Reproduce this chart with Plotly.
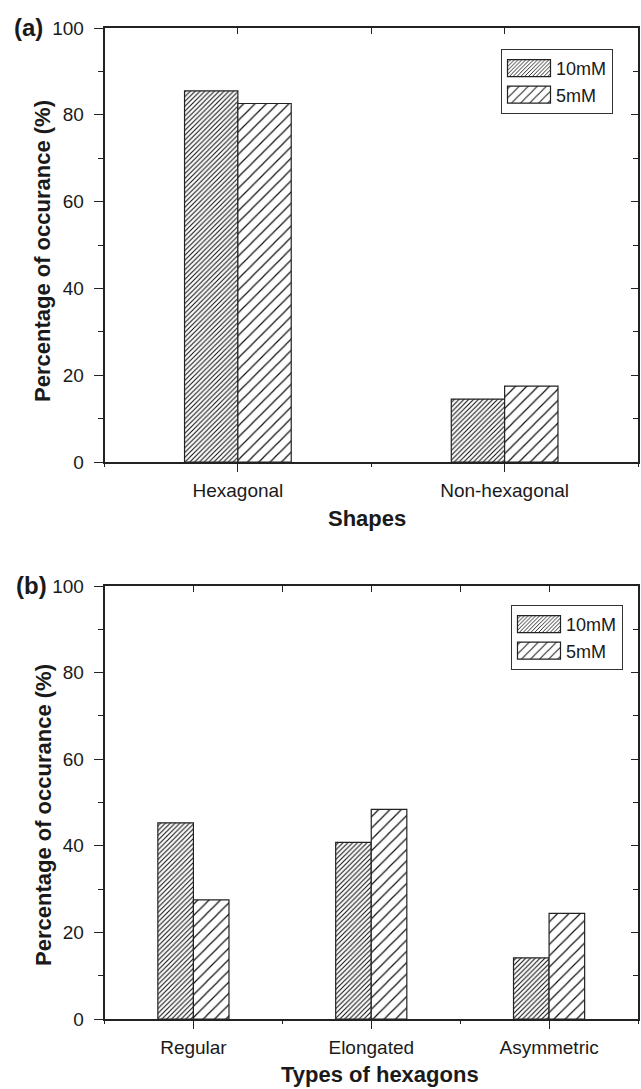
import plotly.graph_objects as go

# ---------------- data ----------------
shapes = ["Hexagonal", "Non-hexagonal"]
shapes_10mM = [85.5, 14.5]
shapes_5mM = [82.6, 17.5]

types = ["Regular", "Elongated", "Asymmetric"]
types_10mM = [45.3, 40.8, 14.1]
types_5mM = [27.5, 48.4, 24.4]

series_names = ["10mM", "5mM"]
y_range = [0, 100]

# ---------------- layout helpers ----------------
W, H = 641, 1089
FONT = "Liberation Sans, Arial, sans-serif"
AX = "#222222"

def px_x(p):
    return p / W

def px_y(p):
    return 1 - p / H

x_dom = [px_x(104.5), px_x(638)]
ya_dom = [px_y(462), px_y(28)]
yb_dom = [px_y(1019), px_y(586)]

dense = dict(shape="/", size=3.4, solidity=0.32, fgcolor="#111", bgcolor="white",
             fillmode="overlay", fgopacity=1)
sparse = dict(shape="/", size=8, solidity=0.15, fgcolor="#111", bgcolor="white",
              fillmode="overlay", fgopacity=1)
bar_line = dict(color="#222", width=1.2)

fig = go.Figure()

# panel (a)
fig.add_trace(go.Bar(x=shapes, y=shapes_10mM, name=series_names[0], xaxis="x", yaxis="y",
                     marker=dict(color="white", line=bar_line, pattern=dense), legend="legend"))
fig.add_trace(go.Bar(x=shapes, y=shapes_5mM, name=series_names[1], xaxis="x", yaxis="y",
                     marker=dict(color="white", line=bar_line, pattern=sparse), legend="legend"))
# panel (b)
fig.add_trace(go.Bar(x=types, y=types_10mM, name=series_names[0], xaxis="x2", yaxis="y2",
                     marker=dict(color="white", line=bar_line, pattern=dense), legend="legend2"))
fig.add_trace(go.Bar(x=types, y=types_5mM, name=series_names[1], xaxis="x2", yaxis="y2",
                     marker=dict(color="white", line=bar_line, pattern=sparse), legend="legend2"))

# empty helper traces so the overlay (tick-only) axes get drawn
for xa, ya in [("x3", "y"), ("x5", "y"), ("x", "y3"), ("x4", "y2"), ("x6", "y2"), ("x2", "y4")]:
    fig.add_trace(go.Scatter(x=[], y=[], xaxis=xa, yaxis=ya, showlegend=False, hoverinfo="skip"))

tickfont = dict(family=FONT, size=19, color="#1a1a1a")

def cat_axis(dom, anchor, n):
    return dict(domain=dom, anchor=anchor, type="category", range=[-0.5, n - 0.5],
                showline=True, linewidth=1.5, linecolor=AX, ticks="outside", ticklen=8,
                tickwidth=1.3, tickcolor=AX, tickfont=tickfont, showgrid=False, zeroline=False,
                ticklabelstandoff=2, fixedrange=True)

def mid_axis(over, anchor, n):
    return dict(overlaying=over, anchor=anchor, side="bottom", type="linear",
                range=[-0.5, n - 0.5], tick0=0.5, dtick=1, ticks="outside", ticklen=4,
                tickwidth=1.3, tickcolor=AX, showticklabels=False, showline=False,
                showgrid=False, zeroline=False)

def top_axis(over, anchor, n):
    return dict(overlaying=over, anchor=anchor, side="top", type="linear",
                range=[-0.5, n - 0.5], tick0=0, dtick=0.5, ticks="inside", ticklen=6,
                tickwidth=1.3, tickcolor=AX, showticklabels=False, showline=True,
                linewidth=1.5, linecolor=AX, showgrid=False, zeroline=False)

def val_axis(dom, anchor):
    return dict(domain=dom, anchor=anchor, range=y_range, dtick=20, tick0=0,
                ticks="outside", ticklen=9, tickwidth=1.3, tickcolor=AX,
                minor=dict(dtick=10, ticks="outside", ticklen=5, tickwidth=1.3, tickcolor=AX),
                showline=True, linewidth=1.5, linecolor=AX, tickfont=tickfont,
                showgrid=False, zeroline=False, ticklabelstandoff=6)

def right_axis(over, anchor):
    return dict(overlaying=over, anchor=anchor, side="right", range=y_range, dtick=20, tick0=0,
                ticks="inside", ticklen=7, tickwidth=1.3, tickcolor=AX,
                minor=dict(dtick=10, ticks="inside", ticklen=5, tickwidth=1.3, tickcolor=AX),
                showticklabels=False, showline=True, linewidth=1.5, linecolor=AX,
                showgrid=False, zeroline=False)

legend_common = dict(bgcolor="white", bordercolor="#333", borderwidth=1,
                     font=dict(family=FONT, size=18, color="#1a1a1a"),
                     xanchor="right", yanchor="top", tracegroupgap=0, itemwidth=44)

title_font = dict(family=FONT, size=22, color="#1a1a1a")
label_font = dict(family=FONT, size=24, color="#1a1a1a")

fig.update_layout(
    width=W, height=H,
    margin=dict(l=0, r=0, t=0, b=0, autoexpand=False),
    paper_bgcolor="white", plot_bgcolor="white",
    barmode="group", bargap=0.6, bargroupgap=0,
    font=dict(family=FONT),
    xaxis=cat_axis(x_dom, "y", len(shapes)),
    xaxis3=mid_axis("x", "y", len(shapes)),
    xaxis5=top_axis("x", "y", len(shapes)),
    yaxis=val_axis(ya_dom, "x"),
    yaxis3=right_axis("y", "x"),
    xaxis2=cat_axis(x_dom, "y2", len(types)),
    xaxis4=mid_axis("x2", "y2", len(types)),
    xaxis6=top_axis("x2", "y2", len(types)),
    yaxis2=val_axis(yb_dom, "x2"),
    yaxis4=right_axis("y2", "x2"),
    legend=dict(x=px_x(613), y=px_y(49), **legend_common),
    legend2=dict(x=px_x(623), y=px_y(605), **legend_common),
    showlegend=True,
    annotations=[
        dict(text="<b>Percentage of occurance (%)</b>", x=px_x(43), y=px_y(251), xref="paper", yref="paper",
             textangle=-90, showarrow=False, font=title_font, xanchor="center", yanchor="middle"),
        dict(text="<b>Percentage of occurance (%)</b>", x=px_x(43), y=px_y(815), xref="paper", yref="paper",
             textangle=-90, showarrow=False, font=title_font, xanchor="center", yanchor="middle"),
        dict(text="<b>Shapes</b>", x=px_x(367), y=px_y(518), xref="paper", yref="paper",
             showarrow=False, font=title_font, xanchor="center", yanchor="middle"),
        dict(text="<b>Types of hexagons</b>", x=px_x(380), y=px_y(1074), xref="paper", yref="paper",
             showarrow=False, font=title_font, xanchor="center", yanchor="middle"),
        dict(text="<b>(a)</b>", x=px_x(12), y=px_y(27), xref="paper", yref="paper",
             showarrow=False, font=label_font, xanchor="left", yanchor="middle"),
        dict(text="<b>(b)</b>", x=px_x(14), y=px_y(585), xref="paper", yref="paper",
             showarrow=False, font=label_font, xanchor="left", yanchor="middle"),
    ],
)

# remove the page's default body margin and widen the legend swatches
post = """
document.documentElement.style.margin = '0';
document.body.style.margin = '0';
document.body.style.overflow = 'hidden';
var gd = document.getElementById('{plot_id}');
function widen() {
  gd.querySelectorAll('g.legendpoints path').forEach(function (p) {
    p.setAttribute('d', 'M21.5,8.5H-21.5V-8.5H21.5Z');
  });
}
widen();
if (gd.on) { gd.on('plotly_afterplot', widen); }
"""

fig.write_html("out.html", post_script=post, config={"displayModeBar": False})
